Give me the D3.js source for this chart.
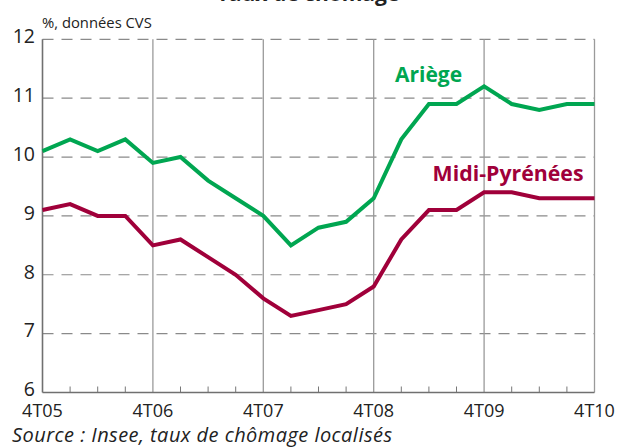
<!DOCTYPE html>
<html><head><meta charset="utf-8">
<script src="https://cdn.jsdelivr.net/npm/d3@7"></script>
<style>
html,body{margin:0;padding:0;background:#fff;}
svg{display:block;font-family:"Open Sans",sans-serif;}
</style></head>
<body><svg id="c" width="619" height="447"></svg>
<script>
const quarters = ["4T05","1T06","2T06","3T06","4T06","1T07","2T07","3T07","4T07","1T08","2T08","3T08","4T08","1T09","2T09","3T09","4T09","1T10","2T10","3T10","4T10"];
const xTickLabels = ["4T05","4T06","4T07","4T08","4T09","4T10"];
const yTicks = [6,7,8,9,10,11,12];
const ariege = [10.1,10.3,10.1,10.3,9.9,10.0,9.6,9.3,9.0,8.5,8.8,8.9,9.3,10.3,10.9,10.9,11.2,10.9,10.8,10.9,10.9];
const midiPyrenees = [9.1,9.2,9.0,9.0,8.5,8.6,8.3,8.0,7.6,7.3,7.4,7.5,7.8,8.6,9.1,9.1,9.4,9.4,9.3,9.3,9.3];
const seriesNames = ["Ariège","Midi-Pyrénées"];
const seriesColors = ["#00a651","#a0003a"];

const svg = d3.select("#c");
const L = 42.5, R = 594.5, T = 39.3, B = 392.5;
const x = d3.scalePoint().domain(quarters).range([L, R]);
const y = d3.scaleLinear().domain([6, 12]).range([B, T]);

// clipped title at top
svg.append("text").attr("x", 308).attr("y", 0.5).attr("text-anchor","middle")
  .attr("font-weight","bold").attr("font-size",21).attr("fill","#222").text("Taux de chômage");

// horizontal dashed gridlines
svg.append("g").selectAll("line").data(yTicks.filter(d => d > 6)).join("line")
  .attr("x1", L).attr("x2", R).attr("y1", d => y(d)).attr("y2", d => y(d))
  .attr("stroke","#8a8a8a").attr("stroke-width",1.2).attr("stroke-dasharray","11,8");

// vertical year gridlines
svg.append("g").selectAll("line").data(xTickLabels.slice(1)).join("line")
  .attr("x1", d => x(d)).attr("x2", d => x(d)).attr("y1", T).attr("y2", B)
  .attr("stroke","#9a9a9a").attr("stroke-width",1.3);

// minor quarter ticks on the x axis
svg.append("g").selectAll("line").data(quarters.filter(q => !xTickLabels.includes(q))).join("line")
  .attr("x1", d => x(d)).attr("x2", d => x(d)).attr("y1", B).attr("y2", B - 6)
  .attr("stroke","#777").attr("stroke-width",1);

// axes lines
svg.append("line").attr("x1", L).attr("x2", L).attr("y1", T).attr("y2", B).attr("stroke","#707070").attr("stroke-width",1.6);
svg.append("line").attr("x1", L).attr("x2", R).attr("y1", B).attr("y2", B).attr("stroke","#707070").attr("stroke-width",1.6);

// y tick labels
svg.append("g").selectAll("text").data(yTicks).join("text")
  .attr("x", 35).attr("y", d => y(d) + 3.8).attr("text-anchor","end")
  .attr("font-size",19.5).attr("fill","#222").text(d => d);

// x tick labels
svg.append("g").selectAll("text").data(xTickLabels).join("text")
  .attr("x", d => x(d)).attr("y", 417).attr("text-anchor","middle")
  .attr("font-size",18).attr("fill","#222").text(d => d);

// unit label
svg.append("text").attr("x", 42).attr("y", 28.3).attr("font-size",14.8).attr("fill","#222").text("%, données CVS");

// source
svg.append("text").attr("x", 12).attr("y", 441.5).attr("font-size",20).attr("font-style","italic")
  .attr("textLength", 380).attr("lengthAdjust","spacing")
  .attr("fill","#222").text("Source : Insee, taux de chômage localisés");

// lines
const line = d3.line().x((d,i) => x(quarters[i])).y(d => y(d));
[ariege, midiPyrenees].forEach((s, k) => {
  svg.append("path").datum(s).attr("d", line).attr("fill","none")
    .attr("stroke", seriesColors[k]).attr("stroke-width",4).attr("stroke-linejoin","miter");
});

// series labels
svg.append("text").attr("x", 395).attr("y", 81.7).attr("font-weight","bold").attr("font-size",21)
  .attr("fill", seriesColors[0]).text(seriesNames[0]);
svg.append("text").attr("x", 583.5).attr("y", 181).attr("text-anchor","end").attr("font-weight","bold").attr("font-size",21.3)
  .attr("fill", seriesColors[1]).text(seriesNames[1]);
</script></body></html>
